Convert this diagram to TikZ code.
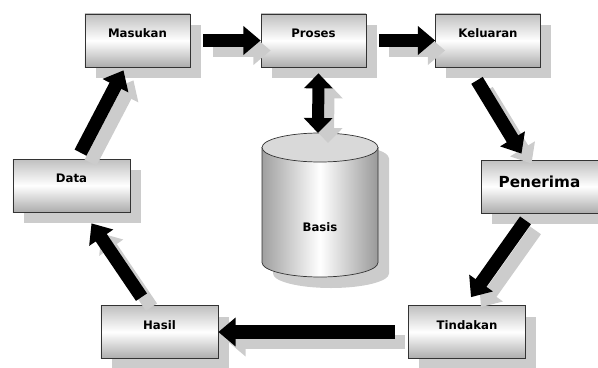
\documentclass[tikz,border=0pt]{standalone}
\usepackage{fontspec}
\setmainfont{DejaVu Sans}
\usetikzlibrary{arrows.meta, shadows, calc}

\begin{document}
\begin{tikzpicture}[
        x = 0.03cm, y = -0.03cm,
        box/.style = {rectangle, draw=black!80, line width=0.6pt,
            font=\bfseries\fontsize{10}{12}\selectfont,
            top color=gray!50, bottom color=gray!65, middle color=white,
            minimum width=3.15cm, minimum height=1.59cm,
            text height=0.27cm, text depth=0.45cm,
            drop shadow={shadow xshift=0.32cm, shadow yshift=-0.34cm, fill=gray!40, opacity=1}},
        wide/.style = {box, minimum width=3.51cm},
        flow/.style = {draw, line width=0.4cm, -{Triangle[width=0.84cm, length=0.52cm]}},
        twoway/.style = {draw, line width=0.36cm,
            {Triangle[width=0.84cm, length=0.45cm]}-{Triangle[width=0.84cm, length=0.45cm]}},
        shade/.style = {draw=gray!40, transform canvas={shift={(0.3cm,-0.3cm)}}}
    ]
    \useasboundingbox (0,0) rectangle (598,367);

    % Nodes
    \node (masukan) [box] at (137.5,40.5) {Masukan};
    \node (proses) [box] at (313.5,40.5) {Proses};
    \node (keluaran) [box] at (488,40.5) {Keluaran};
    \node (penerima) [wide, font=\bfseries\fontsize{13}{16}\selectfont, text height=0.36cm, text depth=0.3cm] at (539.5,186.5) {Penerima};
    \node (tindakan) [wide] at (467,332) {Tindakan};
    \node (hasil) [wide] at (159.5,332) {Hasil};
    \node (data) [wide] at (71.5,185.5) {Data};

    % Database
    \fill [gray!40, shift={(11,11)}] (262,147.5) -- (262,262.5)
        arc [start angle=180, end angle=0, x radius=58, y radius=14.5] -- (378,147.5) -- cycle;
    \fill [gray!40, shift={(11,11)}] (320,147.5) ellipse [x radius=58, y radius=14.5];
    \draw [black!80, line width=0.6pt, left color=gray!75, right color=gray!80, middle color=white]
        (262,147.5) -- (262,262.5)
        arc [start angle=180, end angle=0, x radius=58, y radius=14.5] -- (378,147.5) -- cycle;
    \draw [black!80, line width=0.6pt, fill=gray!30] (320,147.5) ellipse [x radius=58, y radius=14.5];
    \coordinate (basistop) at (318,133);
    \node (basis) [font=\bfseries\fontsize{10}{12}\selectfont] at (320,227) {Basis};

    % Lines
    \path [flow, shade] ($(masukan.east)+(13,0)$) -- (proses.west);
    \path [flow] ($(masukan.east)+(13,0)$) -- (proses.west);
    \path [flow, shade] ($(proses.east)+(13,0)$) -- (keluaran.west);
    \path [flow] ($(proses.east)+(13,0)$) -- (keluaran.west);
    \path [flow, shade] ($(keluaran.south)+(-11,13)$) -- ($(penerima.north)+(-18,-6)$);
    \path [flow] ($(keluaran.south)+(-11,13)$) -- ($(penerima.north)+(-18,-6)$);
    \path [flow, shade] ($(penerima.south)+(-14,7)$) -- ($(tindakan.north)+(4,-8)$);
    \path [flow] ($(penerima.south)+(-14,7)$) -- ($(tindakan.north)+(4,-8)$);
    \path [flow, shade] ($(tindakan.west)+(-13,0)$) -- (hasil.east);
    \path [flow] ($(tindakan.west)+(-13,0)$) -- (hasil.east);
    \path [flow, shade] ($(hasil.north)+(-18,-8)$) -- ($(data.south)+(20,11)$);
    \path [flow] ($(hasil.north)+(-18,-8)$) -- ($(data.south)+(20,11)$);
    \path [flow, shade] ($(data.north)+(9,-6)$) -- ($(masukan.south)+(-14,3)$);
    \path [flow] ($(data.north)+(9,-6)$) -- ($(masukan.south)+(-14,3)$);
    \path [twoway, shade] ($(proses.south)+(5,6)$) -- (basistop);
    \path [twoway] ($(proses.south)+(5,6)$) -- (basistop);

\end{tikzpicture}
\end{document}
